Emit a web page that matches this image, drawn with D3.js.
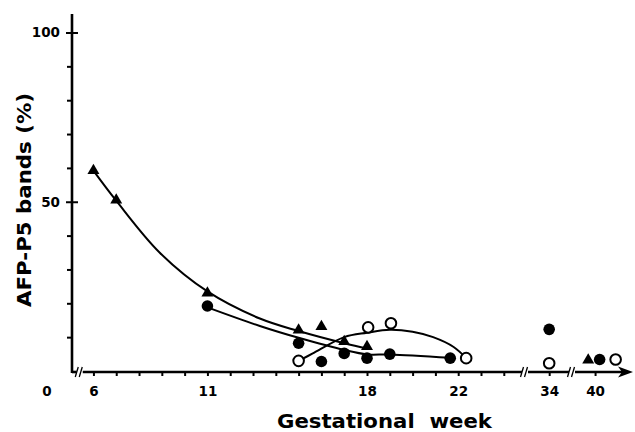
<!DOCTYPE html>
<html><head><meta charset="utf-8">
<script src="https://cdn.jsdelivr.net/npm/d3@7"></script>
<style>body{margin:0;background:#fff}svg{display:block}</style>
</head><body><svg id="c" width="635" height="432"></svg>
<script>
// ---- data ----
const triangleWeeks  = [6, 7, 11, 15, 16, 17, 18, 39.7];
const triangleValues = [59.2, 50.5, 23, 12.1, 13.1, 8.7, 7.2, 3.2];
const filledWeeks    = [11, 15, 16, 17, 18, 19, 21.65, 34, 40.2];
const filledValues   = [19.2, 8.2, 2.8, 5.2, 3.8, 5.0, 3.8, 12.3, 3.4];
const openWeeks      = [15, 18.05, 19.05, 22.35, 34, 40.9];
const openValues     = [3.0, 12.9, 14.1, 3.8, 2.3, 3.4];

// fitted curves drawn in the reference
const triangleFitWeeks  = [6, 7, 8.9, 11, 13.3, 15, 17, 18.05];
const triangleFitValues = [59.2, 50.3, 35, 23.5, 15.5, 11.8, 8.2, 6.6];
const filledFitWeeks    = [11, 13.3, 15, 17, 18, 19, 21.65];
const filledFitValues   = [18.8, 13.3, 9.8, 6.2, 4.9, 4.9, 3.9];
const openFitWeeks      = [15, 15.6, 17, 18, 19, 20, 20.9, 21.8, 22.35];
const openFitValues     = [3.0, 5.1, 10.0, 11.3, 12.2, 11.6, 10.0, 7.1, 3.8];

// ticks
const yMinorTicks = [10, 20, 30, 40, 60, 70, 80, 90];
const yMajorTicks = [50, 100];
const xMinorTicks = [6,7,8,9,10,11,12,13,14,15,16,17,18,19,20,21,22,23,24,34,40];
const xLabelTicks = [6, 11, 18, 22, 34, 40];
const xBreaks = [5.4, 24.93, 35.0];
const xTitle = "Gestational\u00a0\u00a0week";
const yTitle = "AFP-P5 bands (%)";

// ---- scales ----
const x = d3.scaleLinear()
  .domain([5.06, 24.93, 32.94, 35.0, 38.99, 41.66])
  .range([72, 525, 525, 572, 572, 633]);
const y = d3.scaleLinear().domain([0, 100]).range([371, 32.5]);
const axisY = 372;
const yAxisTop = 105.5;

const svg = d3.select("#c");
const font = "'DejaVu Sans', sans-serif";

// ---- y axis ----
const gy = svg.append("g").attr("transform", "translate(72,0)");
gy.call(d3.axisLeft(y).tickValues(yMinorTicks).tickSize(5).tickFormat(""));
gy.call(g => g.select(".domain").remove());
const gyMaj = svg.append("g").attr("transform", "translate(72,0)");
gyMaj.call(d3.axisLeft(y).tickValues(yMajorTicks).tickSize(6).tickPadding(6).tickFormat(d3.format("d")));
gyMaj.call(g => g.select(".domain").remove());
const gyMajR = svg.append("g").attr("transform", "translate(72,0)");
gyMajR.call(d3.axisRight(y).tickValues(yMajorTicks).tickSize(6).tickFormat(""));
gyMajR.call(g => g.select(".domain").remove());
svg.selectAll("g .tick line").attr("stroke", "#000").attr("stroke-width", 2);
gyMaj.selectAll("text").attr("font-family", font).attr("font-weight", "bold").attr("font-size", 13.5).attr("fill", "#000");

svg.append("line").attr("x1", 72).attr("x2", 72)
  .attr("y1", axisY + 1).attr("y2", y(yAxisTop))
  .attr("stroke", "#000").attr("stroke-width", 2.6);

// ---- x axis ----
const gx = svg.append("g").attr("transform", `translate(0,${axisY})`);
gx.call(d3.axisBottom(x).tickValues(xMinorTicks).tickSize(4).tickFormat(""));
gx.call(g => g.select(".domain").remove());
gx.selectAll(".tick line").attr("stroke", "#000").attr("stroke-width", 2);
const gxl = svg.append("g").attr("transform", `translate(0,${axisY})`);
gxl.call(d3.axisBottom(x).tickValues(xLabelTicks).tickSize(0).tickPadding(14).tickFormat(d3.format("d")));
gxl.call(g => g.select(".domain").remove());
gxl.selectAll("text").attr("font-family", font).attr("font-weight", "bold").attr("font-size", 13.5).attr("fill", "#000");

// axis line in pieces, interrupted at the breaks
const bx = xBreaks.map(x);
const segs = [[72, bx[0] - 3], [bx[0] + 3, bx[1] - 3], [bx[1] + 3, bx[2] - 3], [bx[2] + 3, x.range()[5] - 10]];
segs.forEach(s => svg.append("line").attr("x1", s[0]).attr("x2", s[1])
  .attr("y1", axisY).attr("y2", axisY).attr("stroke", "#000").attr("stroke-width", 2.6));
bx.forEach(b => {
  [-3, 1].forEach(o => svg.append("line")
    .attr("x1", b + o - 1.5).attr("y1", axisY + 5)
    .attr("x2", b + o + 1.5).attr("y2", axisY - 5)
    .attr("stroke", "#000").attr("stroke-width", 1.3));
});
const tip = x.range()[5];
svg.append("path")
  .attr("d", `M${tip},${axisY} L${tip - 15},${axisY - 5.5} L${tip - 11},${axisY} L${tip - 15},${axisY + 5.5} Z`)
  .attr("fill", "#000");

// "0" label at the origin
svg.append("text").attr("x", 47).attr("y", axisY + 24).attr("text-anchor", "middle")
  .attr("font-family", font).attr("font-weight", "bold").attr("font-size", 13.5).text("0");

// ---- titles ----
svg.append("text").attr("transform", "translate(31,200) rotate(-90)")
  .attr("text-anchor", "middle").attr("font-family", font).attr("font-weight", "bold")
  .attr("font-size", 20).attr("textLength", 214).attr("lengthAdjust", "spacingAndGlyphs")
  .text(yTitle);
svg.append("text").attr("x", 277).attr("y", 428)
  .attr("font-family", font).attr("font-weight", "bold")
  .attr("font-size", 19).attr("textLength", 215).attr("lengthAdjust", "spacingAndGlyphs")
  .text(xTitle);

// ---- fitted curves ----
const line = d3.line().x(d => x(d[0])).y(d => y(d[1])).curve(d3.curveCatmullRom.alpha(0.5));
const zip = (a, b) => a.map((v, i) => [v, b[i]]);
[[triangleFitWeeks, triangleFitValues], [filledFitWeeks, filledFitValues], [openFitWeeks, openFitValues]]
  .forEach(([w, v]) => svg.append("path").attr("d", line(zip(w, v)))
    .attr("fill", "none").attr("stroke", "#000").attr("stroke-width", 2));

// ---- markers ----
svg.append("g").selectAll("path").data(zip(triangleWeeks, triangleValues)).join("path")
  .attr("transform", d => `translate(${x(d[0])},${y(d[1])})`)
  .attr("d", d3.symbol(d3.symbolTriangle, 62)).attr("fill", "#000");
svg.append("g").selectAll("circle").data(zip(filledWeeks, filledValues)).join("circle")
  .attr("cx", d => x(d[0])).attr("cy", d => y(d[1])).attr("r", 5.8).attr("fill", "#000");
svg.append("g").selectAll("circle").data(zip(openWeeks, openValues)).join("circle")
  .attr("cx", d => x(d[0])).attr("cy", d => y(d[1])).attr("r", 5.3)
  .attr("fill", "#fff").attr("stroke", "#000").attr("stroke-width", 2);
</script></body></html>
